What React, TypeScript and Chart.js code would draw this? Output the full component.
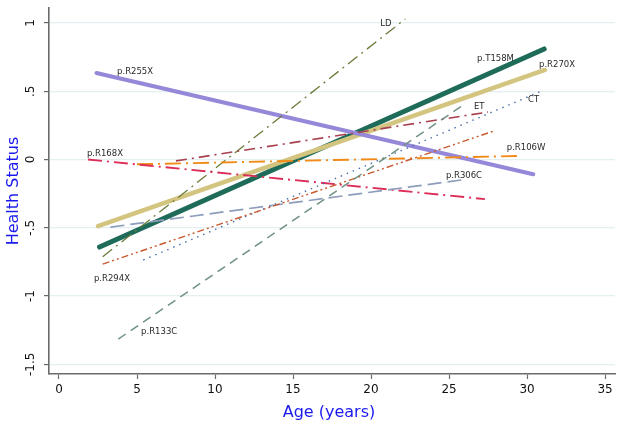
import React, { useEffect, useRef } from "react";
import { Chart, registerables } from "chart.js";

Chart.register(...registerables);

// Series (mutation) names, in drawing order
const seriesNames = [
  "p.R133C", "p.R294X", "CT", "ET", "p.R306C", "p.R168X",
  "p.R106W", "LD", "p.R255X", "p.R270X", "p.T158M",
];
// Fitted line end points (age in years, health status)
const startAge = [3.8, 2.8, 5.4, 7.5, 3.3, 1.86, 5.0, 2.8, 2.4, 2.5, 2.6];
const startStatus = [-1.315, -0.766, -0.736, -0.01, -0.495, 0.0, -0.035, -0.712, 0.634, -0.487, -0.641];
const endAge = [26.0, 27.9, 30.8, 27.5, 25.8, 27.3, 29.5, 22.2, 30.4, 31.15, 31.1];
const endStatus = [0.406, 0.21, 0.495, 0.348, -0.15, -0.29, 0.026, 1.03, -0.108, 0.656, 0.81];

// Label anchor positions (left edge of text, vertical centre) in data units
const labelAge = [5.26, 2.24, 30.06, 26.6, 24.8, 1.79, 28.7, 20.6, 3.72, 30.77, 26.8];
const labelStatus = [-1.26, -0.872, 0.44, 0.388, -0.117, 0.04, 0.088, 0.996, 0.641, 0.692, 0.736];

// Axis ticks
const xTicks = [0, 5, 10, 15, 20, 25, 30, 35];
const yTicks = [1, 0.5, 0, -0.5, -1, -1.5];
const yTickLabels = ["1", ".5", "0", "-.5", "-1", "-1.5"];

const colors = [
  "#6f9284", "#c9592f", "#4a6ea8", "#a8404f", "#8d9dbb", "#dc2c58",
  "#f28a18", "#6a7c3a", "#9688d8", "#d3c57f", "#1f6b5a",
];
const widths = [1.5, 1.4, 1.4, 1.6, 1.7, 1.9, 1.9, 1.3, 4, 4.5, 5];
const dashes: number[][] = [
  [9, 6], [7, 3, 2, 3, 2, 3], [1.5, 5], [11, 5, 2, 5], [14, 6], [14, 5, 2, 5],
  [16, 5, 2, 5], [12, 5, 2, 5], [], [], [],
];

export default function App() {
  const ref = useRef<HTMLCanvasElement>(null);
  useEffect(() => {
    document.body.style.margin = "0";
    const canvas = ref.current!;
    const font = "DejaVu Sans";
    const overlay = {
      id: "overlay",
      afterDatasetsDraw(chart: any) {
        const ctx = chart.ctx;
        const xs = chart.scales.x;
        const ys = chart.scales.y;
        ctx.save();
        ctx.fillStyle = "#2a2a2a";
        ctx.font = `8.5px "${font}"`;
        ctx.textAlign = "left";
        ctx.textBaseline = "middle";
        seriesNames.forEach((n, i) => {
          ctx.fillText(n, xs.getPixelForValue(labelAge[i]), ys.getPixelForValue(labelStatus[i]));
        });
        ctx.restore();
      },
      afterDraw(chart: any) {
        const ctx = chart.ctx;
        const ys = chart.scales.y;
        const area = chart.chartArea;
        ctx.save();
        ctx.fillStyle = "#111";
        ctx.font = `12px "${font}"`;
        ctx.textAlign = "center";
        ctx.textBaseline = "middle";
        yTicks.forEach((v, i) => {
          ctx.save();
          ctx.translate(31, ys.getPixelForValue(v));
          ctx.rotate(-Math.PI / 2);
          ctx.fillText(yTickLabels[i], 0, 0);
          ctx.restore();
        });
        ctx.fillStyle = "#1a1aee";
        ctx.font = `16px "${font}"`;
        ctx.fillText("Age (years)", (area.left + area.right) / 2 - 3, 413);
        ctx.save();
        ctx.translate(14, (area.top + area.bottom) / 2);
        ctx.rotate(-Math.PI / 2);
        ctx.fillText("Health Status", 0, 0);
        ctx.restore();
        ctx.restore();
      },
    };
    const chart = new Chart(canvas, {
      type: "scatter",
      data: {
        datasets: seriesNames.map((n, i) => ({
          label: n,
          data: [
            { x: startAge[i], y: startStatus[i] },
            { x: endAge[i], y: endStatus[i] },
          ],
          showLine: true,
          borderColor: colors[i],
          backgroundColor: colors[i],
          borderWidth: widths[i],
          borderDash: dashes[i],
          borderCapStyle: dashes[i].length ? "butt" : "round",
          pointRadius: 0,
          tension: 0,
        })),
      },
      options: {
        animation: false,
        responsive: false,
        layout: { padding: { top: 8, right: 9, left: 0, bottom: 0 } },
        plugins: { legend: { display: false }, tooltip: { enabled: false } },
        scales: {
          x: {
            type: "linear",
            min: -0.641,
            max: 35.64,
            afterBuildTicks: (s: any) => {
              s.ticks = xTicks.map((v) => ({ value: v }));
            },
            afterFit: (s: any) => {
              s.height = 54;
            },
            ticks: {
              color: "#111",
              font: { family: font, size: 12 },
              padding: 4,
              maxRotation: 0,
              autoSkip: false,
            },
            grid: { drawOnChartArea: false, tickLength: 5, tickColor: "#6b6b6b", tickWidth: 1.2 },
            border: { color: "#6b6b6b", width: 1.6 },
          },
          y: {
            type: "linear",
            min: -1.571,
            max: 1.11,
            afterBuildTicks: (s: any) => {
              s.ticks = yTicks.map((v) => ({ value: v }));
            },
            afterFit: (s: any) => {
              s.width = 49;
            },
            ticks: { display: false },
            grid: { color: "#e4eff1", lineWidth: 1.2, tickLength: 5, tickColor: "#6b6b6b", tickWidth: 1.2 },
            border: { color: "#6b6b6b", width: 1.6 },
          },
        },
      },
      plugins: [overlay],
    } as any);
    return () => chart.destroy();
  }, []);
  return (
    <div style={{ width: 624, height: 428 }}>
      <canvas ref={ref} width={624} height={428} />
    </div>
  );
}
